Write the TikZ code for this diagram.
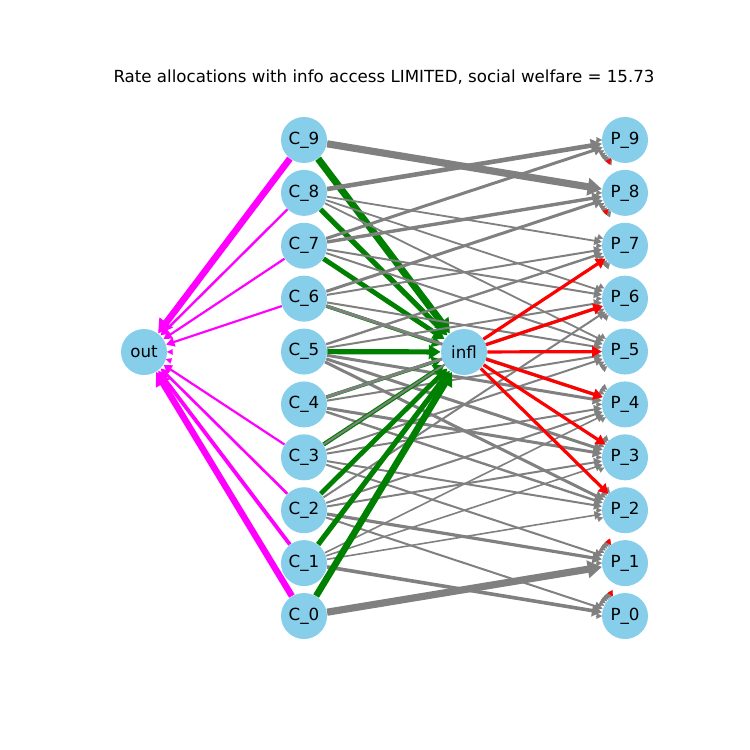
\documentclass[tikz,border=0pt]{standalone}
\usepackage{fontspec}
\setmainfont{DejaVu Sans}
\usetikzlibrary{arrows.meta,calc}
\definecolor{skyb}{HTML}{87CEEB}
\definecolor{eg}{HTML}{808080}
\definecolor{eG}{HTML}{008000}
\definecolor{eR}{HTML}{FF0000}
\definecolor{eM}{HTML}{FF00FF}
\pgfdeclarelayer{bg}
\pgfsetlayers{bg,main}
\newcommand\etip[4]{%
  \ifdim #4pt>0pt
    \draw[#3,line width=#4pt,-{Triangle[length=2.8pt 1.2,width=2.8pt 1.6]}] (#1) -- (#2);
  \else
    \draw[#3,line width=0.1pt,-{Triangle[length=2.8pt,width=2.8pt]}] ($(#2.center)!14.6pt!(#1.center)$) -- ($(#2.center)!11.5pt!(#1.center)$);
  \fi}
\begin{document}
\begin{tikzpicture}[x=0.5pt,y=-0.5pt,
  nd/.style={circle,fill=skyb,minimum size=23pt,inner sep=0pt,font=\fontsize{8.33}{10}\selectfont},
  ttl/.style={font=\fontsize{8.33}{10}\selectfont}]
\useasboundingbox (0,0) rectangle (750,750);
\node[ttl] (title) at (384,77) {Rate allocations with info access LIMITED, social welfare = 15.73};
\node[nd] (out) at (144,352) {out};
\node[nd] (infl) at (464,352) {infl};
\foreach \i in {0,...,9}{
  \pgfmathsetmacro\yy{616-52.89*\i}
  \node[nd] (C\i) at (304,\yy) {C\_\i};
  \node[nd] (P\i) at (625,\yy) {P\_\i};
}
\def\mwarr{{3.2,1.9,1.3,1.1,0,0,1.1,1.1,1.2,3.3}}
\def\gnarr{{3.3,2.6,2.4,2.2,1.8,2.6,1.8,2.4,2.6,3.5}}
\def\rdarr{{0,0,1.6,1.6,1.6,1.6,1.6,1.6,0,0}}
\def\gyarr{{0,3.6,0,0,0,0,0,0,0,0,
 1.8,0,0.8,0.8,0.8,0,0,0,0,0,
 1.0,1.6,0,1.0,1.0,0,1.0,0,0,0,
 0,1.0,1.0,0,1.0,1.0,0,1.0,0,0,
 0,0,1.2,1.5,0,1.0,1.5,0,0,0,
 0,0,1.5,1.5,1.5,0,1.0,1.2,0,0,
 0,0,0,0,1.5,1.0,0,1.0,1.5,0,
 0,0,0,0,0,1.0,1.0,0,1.7,1.5,
 0,0,0,0,0,0.9,0.9,0.9,0,2.3,
 0,0,0,0,0,0,0,0,3.6,0}}
\begin{pgfonlayer}{bg}
\foreach \i in {9,...,0}{
  \pgfmathsetmacro\wm{\mwarr[\i]}
  \etip{C\i}{out}{eM}{\wm}
  \pgfmathsetmacro\wg{\gnarr[\i]}
  \etip{C\i}{infl}{eG}{\wg}
  \foreach \j in {9,...,0}{
    \pgfmathsetmacro\wy{\gyarr[10*\i+\j]}
    \etip{C\i}{P\j}{eg}{\wy}
  }
}
\foreach \j in {9,...,0}{
  \pgfmathsetmacro\wr{\rdarr[\j]}
  \etip{infl}{P\j}{eR}{\wr}
}
\end{pgfonlayer}
\end{tikzpicture}
\end{document}
